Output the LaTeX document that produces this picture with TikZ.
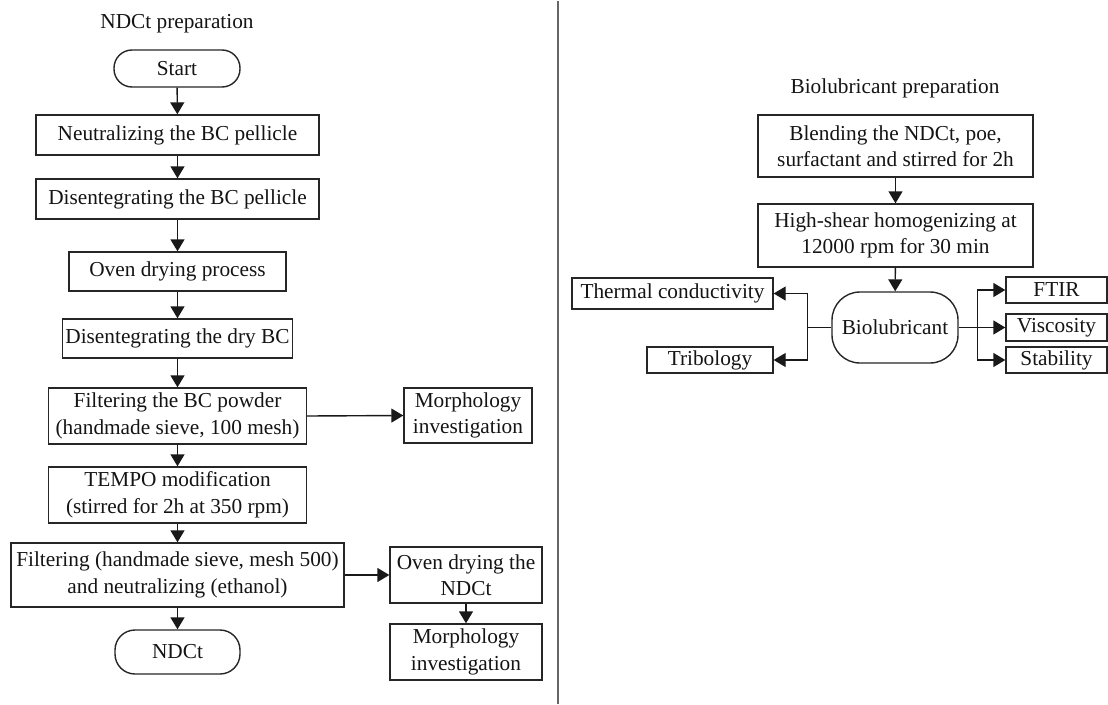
\documentclass[tikz,border=0pt]{standalone}
\usepackage{fontspec}
\setmainfont{Liberation Serif}
\usetikzlibrary{arrows.meta}
\begin{document}
\begin{tikzpicture}[x=1pt,y=-1pt,
  every node/.style={font=\fontsize{21.3}{26.5}\selectfont, text=black!92},
  box/.style={draw=black!85, line width=1.4pt, inner sep=2pt, align=center},
  term/.style={box, rounded corners=18pt},
  lbl/.style={inner sep=0pt},
  arr/.style={draw=black!90, line width=1.4pt, -{Triangle[length=12pt,width=14pt]}},
  ln/.style={draw=black!90, line width=1.4pt}]
\useasboundingbox (0,0) rectangle (1108,704);
% divider
\draw[draw=black!60, line width=2pt] (558,1) -- (558,704);
% left column
\node[lbl] (t1) at (177,24) {NDCt preparation};
\node[term, minimum width=126pt, minimum height=37pt] (start) at (177,68.5) {Start};
\node[box, minimum width=283pt, minimum height=40pt] (neut) at (177.5,135) {Neutralizing the BC pellicle};
\node[box, minimum width=283pt, minimum height=40pt] (pell) at (177.5,199) {Disentegrating the BC pellicle};
\node[box, minimum width=217pt, minimum height=39pt] (oven) at (177.5,271.5) {Oven drying process};
\node[box, minimum width=230pt, minimum height=39pt] (dry) at (177.5,338.5) {Disentegrating the dry BC};
\node[box, minimum width=258pt, minimum height=56pt] (filt1) at (177.5,416) {Filtering the BC powder\\(handmade sieve, 100 mesh)};
\node[box, minimum width=128pt, minimum height=55pt] (morph1) at (468,415.5) {Morphology\\investigation};
\node[box, minimum width=258pt, minimum height=56pt] (tempo) at (177.5,495) {TEMPO modification\\(stirred for 2h at 350 rpm)};
\node[box, minimum width=333pt, minimum height=64pt] (filt2) at (177.5,575) {Filtering (handmade sieve, mesh 500)\\and neutralizing (ethanol)};
\node[term, rounded corners=20pt, minimum width=125pt, minimum height=44pt] (ndct) at (177.5,652) {NDCt};
\node[box, minimum width=152pt, minimum height=56pt] (ovenN) at (466,575) {Oven drying the\\NDCt};
\node[box, minimum width=152pt, minimum height=56pt] (morph2) at (466,652) {Morphology\\investigation};
\draw[arr] (start) -- (neut);
\draw[arr] (neut) -- (pell);
\draw[arr] (pell) -- (oven);
\draw[arr] (oven) -- (dry);
\draw[arr] (dry) -- (filt1);
\draw[arr] (filt1) -- (tempo);
\draw[arr] (tempo) -- (filt2);
\draw[arr] (filt2) -- (ndct);
\draw[arr] (filt1.east) -- (morph1.west);
\draw[arr] (filt2.east) -- (ovenN.west);
\draw[arr] (ovenN) -- (morph2);
% right column
\node[lbl] (t2) at (895,88) {Biolubricant preparation};
\node[box, minimum width=275pt, minimum height=62pt] (blend) at (895.5,146) {Blending the NDCt, poe,\\surfactant and stirred for 2h};
\node[box, minimum width=275pt, minimum height=63pt] (shear) at (895.5,235.5) {High-shear homogenizing at\\12000 rpm for 30 min};
\node[term, rounded corners=28pt, minimum width=126pt, minimum height=71pt] (bio) at (895,327.5) {Biolubricant};
\node[box, minimum width=201pt, minimum height=31pt] (thermal) at (672.5,293.5) {Thermal conductivity};
\node[box, minimum width=126pt, minimum height=26pt] (trib) at (710,360) {Tribology};
\node[box, minimum width=101pt, minimum height=26pt] (ftir) at (1056.5,290) {FTIR};
\node[box, minimum width=101pt, minimum height=27pt] (visc) at (1056.5,327.5) {Viscosity};
\node[box, minimum width=101pt, minimum height=26pt] (stab) at (1056.5,360) {Stability};
\draw[arr] (blend) -- (shear);
\draw[arr] (shear) -- (bio);
\coordinate (lb) at ([xshift=-24pt]bio.west);
\coordinate (rb) at ([xshift=19pt]bio.east);
\draw[ln] (bio.west) -- (lb);
\draw[arr] (lb) |- (thermal.east);
\draw[arr] (lb) |- (trib.east);
\draw[arr] (bio.east) -- (visc.west);
\draw[arr] (rb) |- (ftir.west);
\draw[arr] (rb) |- (stab.west);
\end{tikzpicture}
\end{document}
